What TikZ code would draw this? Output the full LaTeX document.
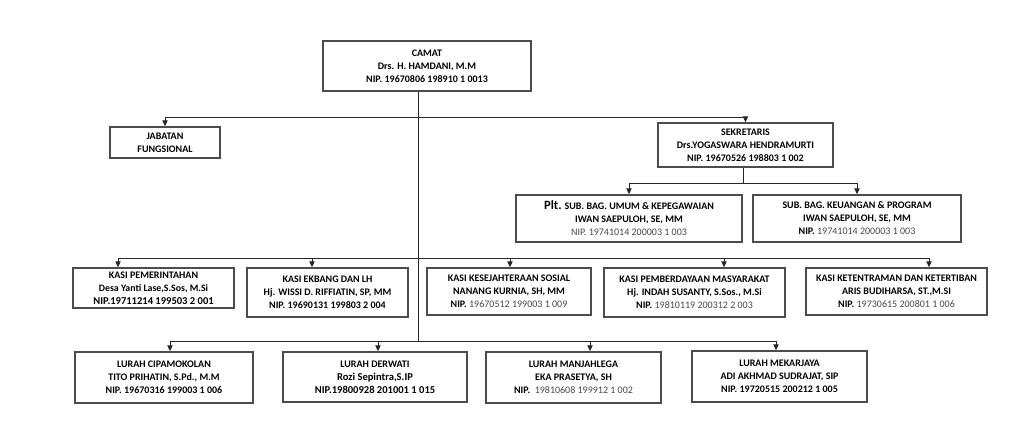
\documentclass[tikz,border=0pt]{standalone}
\usepackage{fontspec}
\setmainfont{Carlito}
\usetikzlibrary{arrows.meta}
\newcommand{\lite}[1]{{\mdseries\color{black!72}#1}}
\newcommand{\bigtxt}[2][6]{{\fontsize{#1}{7.4}\selectfont #2}}

\begin{document}
\begin{tikzpicture}[x=0.02cm,y=-0.02cm,
  box/.style={draw=black!70,line width=0.8pt,inner sep=0pt,align=center,
    font=\fontsize{5.7}{7.4}\selectfont\bfseries},
  link/.style={draw=black!85,line width=0.55pt},
  arr/.style={link,-{Triangle[length=3.4pt,width=3pt]}}]
\useasboundingbox (0,0) rectangle (1024,436);
\node[box,minimum width=4.16cm,minimum height=1cm] (camat) at (427,66) {CAMAT\\Drs. H. HAMDANI, M.M\\NIP. 19670806 198910 1 0013};
\node[box,minimum width=2.2cm,minimum height=0.62cm] (jab) at (165,142.5) {JABATAN\\FUNGSIONAL};
\node[box,minimum width=3.5cm,minimum height=0.88cm] (sek) at (745.5,145) {SEKRETARIS\\Drs.YOGASWARA HENDRAMURTI\\NIP. 19670526 198803 1 002};
\node[box,minimum width=4.52cm,minimum height=0.94cm] (umum) at (629,218.5) {{\fontsize{7.2}{7.4}\selectfont Plt.} SUB. BAG. UMUM \& KEPEGAWAIAN\\IWAN SAEPULOH, SE, MM\\\lite{NIP. 19741014 200003 1 003}};
\node[box,minimum width=4.16cm,minimum height=0.94cm] (keu) at (857,218.5) {SUB. BAG. KEUANGAN \& PROGRAM\\IWAN SAEPULOH, SE, MM\\NIP. \lite{19741014 200003 1 003}};
\node[box,minimum width=3.22cm,minimum height=0.8cm] (pem) at (153.5,288) {KASI PEMERINTAHAN\\\bigtxt[5.6]{Desa Yanti Lase,S.Sos, M.Si}\\\bigtxt{NIP.19711214 199503 2 001}};
\node[box,minimum width=3.22cm,minimum height=0.98cm] (ekb) at (327.5,292.5) {KASI EKBANG DAN LH\\Hj. WISSI D. RIFFIATIN, SP, MM\\NIP. 19690131 199803 2 004};
\node[box,minimum width=3.28cm,minimum height=0.94cm] (kes) at (509,291.5) {KASI KESEJAHTERAAN SOSIAL\\NANANG KURNIA, SH, MM\\NIP. \lite{19670512 199003 1 009}};
\node[box,minimum width=3.62cm,minimum height=0.98cm] (pmb) at (694.5,292.5) {KASI PEMBERDAYAAN MASYARAKAT\\Hj. INDAH SUSANTY, S.Sos., M.Si\\NIP. \lite{19810119 200312 2 003}};
\node[box,minimum width=3.62cm,minimum height=0.94cm] (ket) at (896.5,291.5) {KASI KETENTRAMAN DAN KETERTIBAN\\ARIS BUDIHARSA, ST.,M.SI\\NIP. \lite{19730615 200801 1 006}};
\node[box,minimum width=3.56cm,minimum height=1.02cm] (cip) at (164,377.5) {LURAH CIPAMOKOLAN\\TITO PRIHATIN, S.Pd., M.M\\NIP. 19670316 199003 1 006};
\node[box,minimum width=3.68cm,minimum height=1cm] (der) at (375,377) {LURAH DERWATI\\\bigtxt{Rozi Sepintra,S.IP}\\\bigtxt{NIP.19800928 201001 1 015}};
\node[box,minimum width=3.5cm,minimum height=1.02cm] (man) at (573.5,377.5) {LURAH MANJAHLEGA\\EKA PRASETYA, SH\\NIP.~~\lite{19810608 199912 1 002}};
\node[box,minimum width=3.5cm,minimum height=1.02cm] (mek) at (779.5,376.5) {LURAH MEKARJAYA\\ADI AKHMAD SUDRAJAT, SIP\\NIP. 19720515 200212 1 005};
\coordinate (t1) at (418,117);
\coordinate (t4) at (418,341);
\coordinate (s1) at (743,183);
\coordinate (a-pem) at (118,258);
\coordinate (a-ekb) at (312,258);
\coordinate (a-kes) at (510,258);
\coordinate (a-pmb) at (724,258);
\coordinate (a-ket) at (929,258);
\coordinate (a-cip) at (170,341);
\coordinate (a-der) at (378,341);
\coordinate (a-man) at (590,341);
\coordinate (a-mek) at (776,341);
\draw[link] (camat.south -| t1) -- (t4);
\draw[arr] (t1) -| (jab.north);
\draw[arr] (t1) -| (sek.north);
\draw[link] (sek.south -| s1) -- (s1);
\draw[arr] (s1) -| (umum.north);
\draw[arr] (s1) -| (keu.north);
\draw[link] (a-pem) -- (a-ket);
\draw[link] (a-cip) -- (a-mek);
\foreach \n in {pem,ekb,kes,pmb,ket,cip,der,man,mek}
  \draw[arr] (a-\n) -- (a-\n |- \n.north);
\end{tikzpicture}
\end{document}
